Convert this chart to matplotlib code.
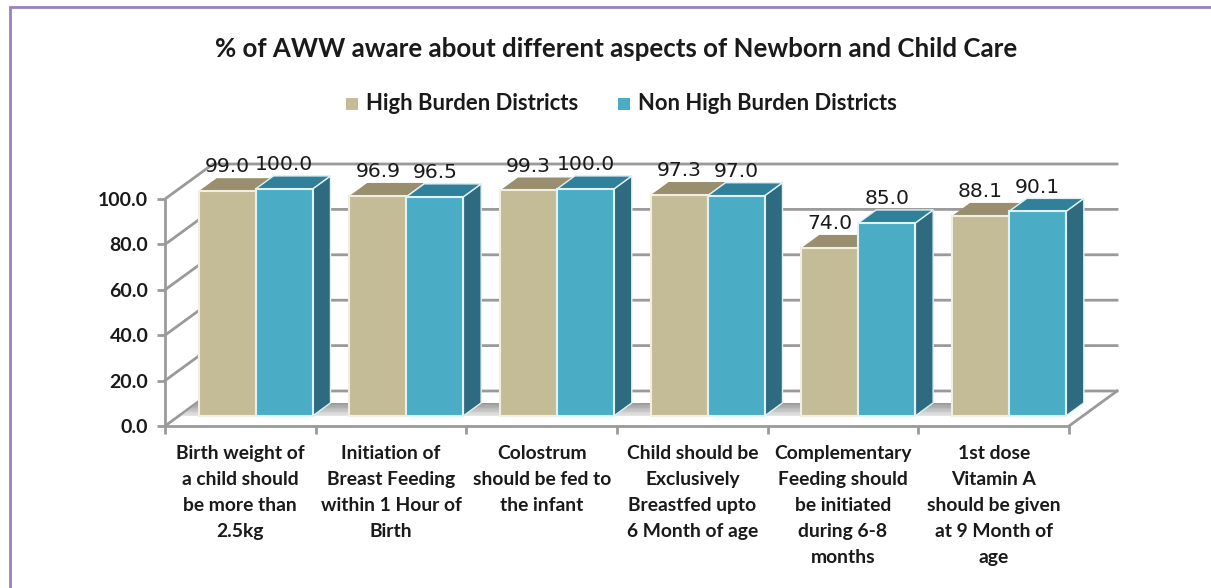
import matplotlib
matplotlib.use('Agg')
import matplotlib.pyplot as plt
from matplotlib.patches import Polygon, Rectangle

categories = [
    "Birth weight of\na child should\nbe more than\n2.5kg",
    "Initiation of\nBreast Feeding\nwithin 1 Hour of\nBirth",
    "Colostrum\nshould be fed to\nthe infant",
    "Child should be\nExclusively\nBreastfed upto\n6 Month of age",
    "Complementary\nFeeding should\nbe initiated\nduring 6-8\nmonths",
    "1st dose\nVitamin A\nshould be given\nat 9 Month of\nage",
]
high_burden = [99.0, 96.9, 99.3, 97.3, 74.0, 88.1]
non_high_burden = [100.0, 96.5, 100.0, 97.0, 85.0, 90.1]
y_ticks = [0, 20, 40, 60, 80, 100]

W, H = 1211, 588
TAN, TAN_TOP = '#c4bc96', '#998f6e'
BLUE, BLUE_TOP, BLUE_SIDE = '#4bacc6', '#31809a', '#2f6b80'
GRID = '#9a9a9a'
INK = '#1a1a1a'
FONT = 'Lato'

# depth of the fake 3d box, in data units
DX, DY = 48 / 150.6, 35 / 2.27
BAR_W = 0.378
FRONT = 0.29
DEPTH = 0.37
NUDGE = 1.5 / 150.6

plt.rcParams['font.family'] = FONT
fig = plt.figure(figsize=(W / 100, H / 100), dpi=100)
ax = fig.add_axes([165 / W, (H - 426) / H, 904 / W, 227 / H])
ax.set_xlim(0, 6)
ax.set_ylim(0, 100)
ax.patch.set_visible(False)
for s in ['top', 'right']:
    ax.spines[s].set_visible(False)
for s in ['left', 'bottom']:
    ax.spines[s].set_color(GRID)
    ax.spines[s].set_linewidth(2)


def poly(points, color, z, **kw):
    ax.add_patch(Polygon(points, closed=True, facecolor=color, clip_on=False, zorder=z, **kw))


def shadow(x_low, x_high, x_right):
    # floor shadow, dark at the back and fading towards the front
    base = FRONT * DY
    top = base + DEPTH * DY
    steps = 10
    for k in range(steps):
        t0, t1 = k / steps, (k + 1) / steps
        shade = 0.93 - 0.33 * t1
        poly([(x_low + (x_high - x_low) * t0, base + (top - base) * t0), (x_right, base + (top - base) * t0),
              (x_right, base + (top - base) * t1), (x_low + (x_high - x_low) * t1, base + (top - base) * t1)],
             (shade, shade, shade), 2, edgecolor='none')


# back wall lines and floor
for v in y_ticks:
    ax.plot([0, DX, 6 + DX], [v, v + DY, v + DY], color=GRID, lw=2, clip_on=False, zorder=1)
ax.plot([6, 6 + DX], [0, DY], color=GRID, lw=2, clip_on=False, zorder=1)

centers = [i + 0.5 + FRONT * DX + NUDGE for i in range(6)]
side_dx = DEPTH * DX
shadow(centers[0] - BAR_W - side_dx, centers[0] - BAR_W, centers[0])
for c, nxt in zip(centers[:-1], centers[1:]):
    shadow(c + BAR_W, c + BAR_W + side_dx, nxt)

# bars
for i, (a, b) in enumerate(zip(high_burden, non_high_burden)):
    c = centers[i]
    base = FRONT * DY
    dx, dy = DEPTH * DX, DEPTH * DY
    xa, xb = c - BAR_W, c
    poly([(xa, a + base), (xa + BAR_W, a + base), (xa + BAR_W + dx, a + base + dy), (xa + dx, a + base + dy)],
         TAN_TOP, 3, edgecolor='none')
    poly([(xb + BAR_W, base), (xb + BAR_W + dx, base + dy), (xb + BAR_W + dx, b + base + dy), (xb + BAR_W, b + base)],
         BLUE_SIDE, 4, edgecolor='#dff2f5', linewidth=1)
    poly([(xb, b + base), (xb + BAR_W, b + base), (xb + BAR_W + dx, b + base + dy), (xb + dx, b + base + dy)],
         BLUE_TOP, 4, edgecolor='#dff2f5', linewidth=1)
    ax.bar(xa, a, BAR_W, bottom=base, align='edge', color=TAN, edgecolor='#f2efe2', linewidth=1.5,
           zorder=5, clip_on=False)
    ax.bar(xb, b, BAR_W, bottom=base, align='edge', color=BLUE, edgecolor='#dff2f5', linewidth=1.5,
           zorder=5, clip_on=False)
    for x, v in [(xa, a), (xb, b)]:
        ax.annotate(f'{v:.1f}', (x + BAR_W / 2, v + base), xytext=(0, 17.5), textcoords='offset points',
                    ha='center', va='center', fontsize=14.6, family='DejaVu Sans', color=INK,
                    zorder=6, annotation_clip=False)

ax.set_yticks(y_ticks)
ax.set_yticklabels([f'{v:.1f}' for v in y_ticks], fontsize=14, fontweight='bold', color=INK)
ax.set_xticks(range(7))
ax.set_xticklabels([])
ax.set_xticks([i + 0.5 for i in range(6)], minor=True)
ax.set_xticklabels(categories, minor=True, fontsize=13.9, fontweight='bold', color=INK, linespacing=1.64)
ax.tick_params(axis='both', which='major', color=GRID, width=2, length=6, pad=6)
ax.tick_params(axis='x', which='minor', length=0, pad=14)

# title and legend are placed by hand to sit like the original
fig.text(616 / W, 1 - 49 / H, '% of AWW aware about different aspects of Newborn and Child Care',
         ha='center', va='center', fontsize=18.6, fontweight='bold', color=INK)
fig.add_artist(Rectangle((346 / W, 1 - 110 / H), 12 / W, 12 / H, transform=fig.transFigure, facecolor=TAN, edgecolor='none'))
fig.add_artist(Rectangle((618 / W, 1 - 110 / H), 12 / W, 12 / H, transform=fig.transFigure, facecolor=BLUE, edgecolor='none'))
fig.text(366 / W, 1 - 104 / H, 'High Burden Districts', va='center', fontsize=15.9, fontweight='bold', color=INK)
fig.text(638 / W, 1 - 104 / H, 'Non High Burden Districts', va='center', fontsize=15.8, fontweight='bold', color=INK)

# slide frame, runs off the bottom and right of the image
fig.add_artist(Rectangle((10 / W, -0.05), 1.1, 1.05 - 7 / H, transform=fig.transFigure,
                         facecolor='none', edgecolor='#9a80c2', linewidth=2))

fig.savefig('out.png', dpi=100)
